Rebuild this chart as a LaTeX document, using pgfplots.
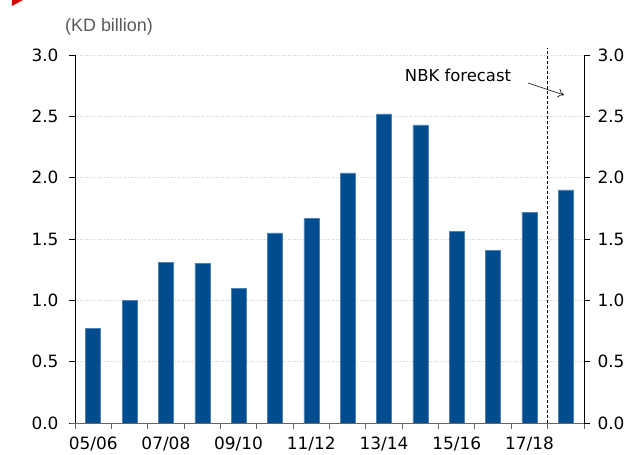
\documentclass[border=0pt]{standalone}
\usepackage{fontspec}
\setmainfont{DejaVu Sans}
\newfontfamily\arialfont{Liberation Sans}
\usepackage{pgfplots}
\pgfplotsset{compat=1.18}
\usetikzlibrary{arrows.meta}
\definecolor{barblue}{HTML}{004C8F}
\definecolor{gridgray}{HTML}{D0D0D0}
\begin{document}
\begin{tikzpicture}
\pgfplotsset{
  common/.style={
    at={(0,0)}, anchor=south west,
    scale only axis, width=509bp, height=368bp,
    xmin=-0.5, xmax=13.5, ymin=0, ymax=3,
    ytick={0,0.5,...,3.0},
    yticklabel style={/pgf/number format/fixed, /pgf/number format/fixed zerofill, /pgf/number format/precision=1},
    /pgf/number format/assume math mode=true,
    tick label style={font=\fontsize{17}{20}\selectfont},
    tick align=outside,
    major tick length=6bp,
    clip=false,
  }
}
\begin{axis}[common,
  axis x line=none,
  axis y line*=left,
  y axis line style={black, -},
  ytick style={black, line width=0.8pt},
  yticklabel style={xshift=-7bp},
  ymajorgrids, grid style={gridgray, dotted, line width=0.6pt},
  bar width=15bp,
]
\addplot[ybar, fill=barblue, draw=barblue!70!white, line width=0.4pt] coordinates {
(0,0.77) (1,1.00) (2,1.31) (3,1.30) (4,1.10) (5,1.55) (6,1.67)
(7,2.04) (8,2.52) (9,2.43) (10,1.56) (11,1.41) (12,1.72) (13,1.90)};
\draw[gray!80!black, line width=0.9pt] (axis cs:-0.65,0) -- (axis cs:13.65,0);
\draw[black, densely dashed, line width=0.7pt] (axis cs:12.5,0) -- (axis cs:12.5,3.06);
\end{axis}
\begin{axis}[common,
  axis x line*=bottom,
  axis y line*=right,
  x axis line style={draw=none},
  y axis line style={black, -},
  ytick style={black, line width=0.8pt},
  yticklabel style={xshift=4bp},
  xtick={0,2,...,12},
  xticklabels={05/06,07/08,09/10,11/12,13/14,15/16,17/18},
  major x tick style={draw=none},
  minor xtick={-0.5,0.5,...,13.5},
  minor tick length=6bp,
  minor x tick style={gray!80!black, line width=0.9pt},
  xticklabel style={yshift=-7bp, inner sep=1bp},
]
\addplot[draw=none] coordinates {(0,0)};
\end{axis}
\node[text=black!65, font=\arialfont\fontsize{18}{21}\selectfont] at (34bp,396bp) {(KD billion)};
\node[font=\fontsize{16.5}{19}\selectfont] at (383bp,348bp) {NBK forecast};
\draw[-{To[length=6bp,width=9bp]}, line width=0.6pt] (453bp,340bp) -- (489bp,328bp);
\fill[red!85!black] (-63bp,423bp) -- (-52bp,423bp) -- (-63bp,417bp) -- cycle;
\pgfresetboundingbox
\path[use as bounding box] (-75bp,-32bp) rectangle (558bp,423bp);
\end{tikzpicture}
\end{document}
